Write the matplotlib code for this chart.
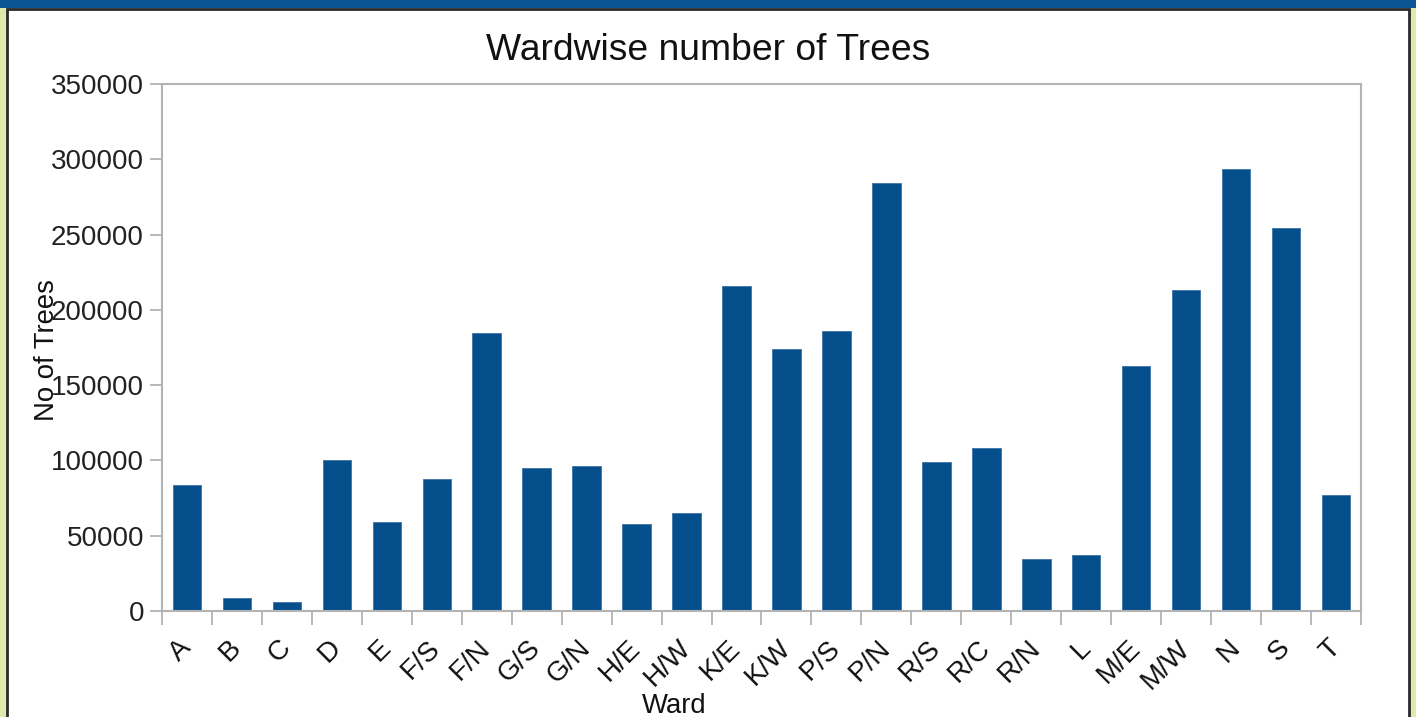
import matplotlib
matplotlib.use("Agg")
import matplotlib.pyplot as plt
from matplotlib.patches import Rectangle

wards = ["A", "B", "C", "D", "E", "F/S", "F/N", "G/S", "G/N", "H/E", "H/W", "K/E",
         "K/W", "P/S", "P/N", "R/S", "R/C", "R/N", "L", "M/E", "M/W", "N", "S", "T"]
trees = [83700, 8600, 6000, 100300, 59100, 87600, 184600, 95000, 96300, 57800,
         65100, 215800, 174000, 185900, 284200, 98900, 108200, 34500, 37200,
         162700, 213100, 293500, 254300, 77000]
y_ticks = [0, 50000, 100000, 150000, 200000, 250000, 300000, 350000]

W, H = 1416, 717
plt.rcParams["font.family"] = ["Liberation Sans", "DejaVu Sans"]

fig = plt.figure(figsize=(W / 100, H / 100), dpi=100, facecolor="#dfe9ad")

# window chrome: blue strip on top, dark frame round the white panel
fig.add_artist(Rectangle((0, 1 - 8 / H), 1, 8 / H, transform=fig.transFigure,
                         facecolor="#0a5494", edgecolor="none", zorder=0))
fig.add_artist(Rectangle((7 / W, -0.01), (1402) / W, 1.01 - 9 / H,
                         transform=fig.transFigure, facecolor="white",
                         edgecolor="#2a2a2a", linewidth=2, zorder=0))

ax = fig.add_axes([162 / W, 106 / H, 1199 / W, 527 / H])
ax.set_facecolor("none")
x = list(range(len(wards)))
ax.bar(x, trees, width=0.57, color="#05508c", edgecolor="#3d72a8", linewidth=0.6, zorder=2)

ax.set_xlim(-0.5, len(wards) - 0.5)
ax.set_ylim(0, 350000)
ax.set_yticks(y_ticks)
ax.set_yticklabels([str(v) for v in y_ticks], fontsize=20, color="#222222")
ax.set_xticks(x)
ax.set_xticklabels(wards, fontsize=20, rotation=45, ha="right", va="center",
                   rotation_mode="anchor", color="#111111")
ax.set_xticks([i - 0.5 for i in range(len(wards) + 1)], minor=True)
ax.tick_params(axis="x", which="major", length=0, pad=24)
ax.tick_params(axis="x", which="minor", length=10, width=1.3, color="#b3b3b3")
ax.tick_params(axis="y", length=9, width=1.3, color="#b3b3b3", pad=4)

for side in ["left", "right", "top", "bottom"]:
    ax.spines[side].set_color("#b3b3b3")
    ax.spines[side].set_linewidth(1.5)

fig.text(0.5, 1 - 50 / H, "Wardwise number of Trees", fontsize=26.8,
         ha="center", va="center", color="#111111")
fig.text(47 / W, 1 - 350 / H, "No of Trees", fontsize=19.8, rotation=90,
         ha="center", va="center", color="#111111")
fig.text(674 / W, 1 - 706 / H, "Ward", fontsize=19.8, ha="center", va="center",
         color="#111111")

fig.savefig("out.png", dpi=100, facecolor=fig.get_facecolor())
plt.close(fig)
